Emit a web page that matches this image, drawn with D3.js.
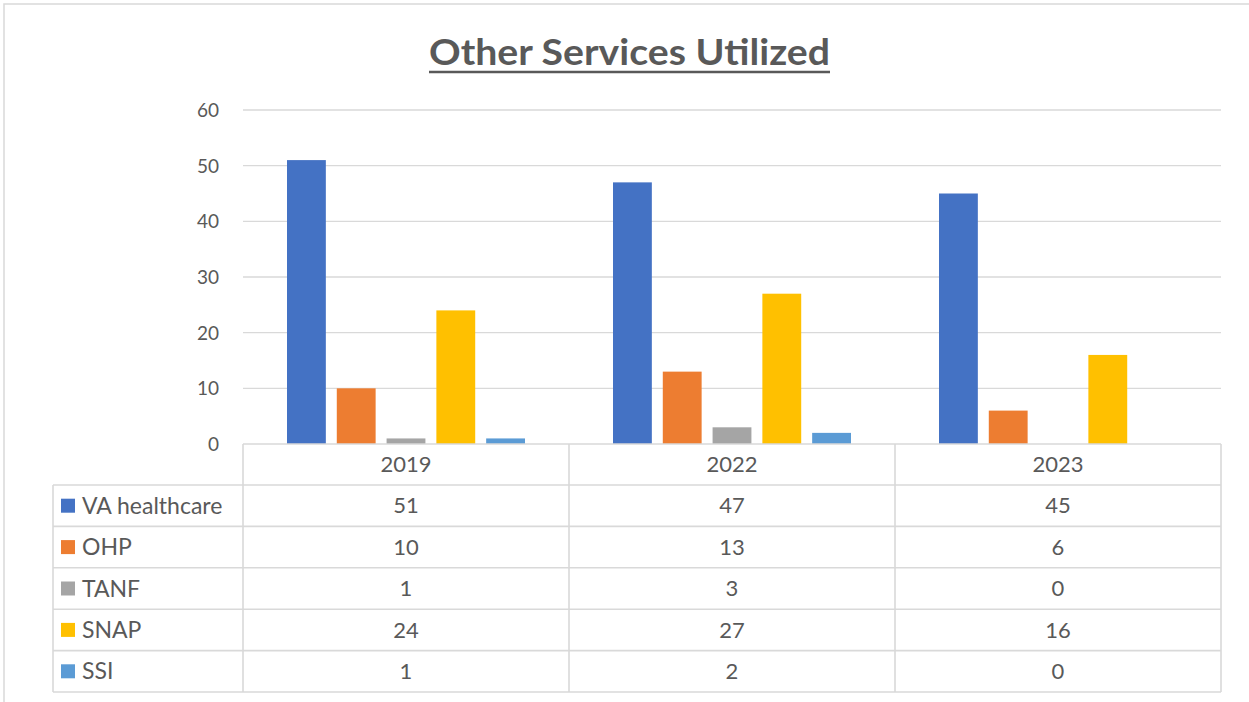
<!DOCTYPE html>
<html><head><meta charset="utf-8">
<script src="https://cdn.jsdelivr.net/npm/d3@7"></script>
<style>body{margin:0;background:#fff;} svg{display:block;font-family:Lato, "Open Sans", sans-serif;}</style>
</head><body>
<svg id="c" width="1249" height="702"></svg>
<script>
const years = ["2019", "2022", "2023"];
const seriesNames = ["VA healthcare", "OHP", "TANF", "SNAP", "SSI"];
const seriesColors = ["#4472C4", "#ED7D31", "#A5A5A5", "#FFC000", "#5B9BD5"];
const vaHealthcare = [51, 47, 45];
const ohp = [10, 13, 6];
const tanf = [1, 3, 0];
const snap = [24, 27, 16];
const ssi = [1, 2, 0];
const yTicks = [0, 10, 20, 30, 40, 50, 60];
const seriesValues = [vaHealthcare, ohp, tanf, snap, ssi];

const svg = d3.select("#c");
const txt = "#595959", grid = "#d9d9d9";

// outer border
svg.append("path").attr("d", "M4,702 L4,4 L1249,4").attr("fill","none").attr("stroke", grid).attr("stroke-width", 1.5);

// title
const title = svg.append("text").attr("x", 629.5).attr("y", 65).attr("text-anchor","middle")
  .attr("font-size", 36).attr("font-weight", "bold").attr("fill", txt)
  .attr("textLength", 401).attr("lengthAdjust", "spacingAndGlyphs").text("Other Services Utilized");
svg.append("line").attr("x1", 429).attr("x2", 830).attr("y1", 72).attr("y2", 72)
  .attr("stroke", txt).attr("stroke-width", 2.5);

const x = d3.scaleBand().domain(years).range([243, 1221]).padding(0);
const xi = d3.scaleBand().domain(seriesNames).range([44, x.bandwidth() - 44]).paddingInner(0.22).paddingOuter(0);
const y = d3.scaleLinear().domain([0, 60]).range([444, 110]);

// gridlines
svg.append("g").selectAll("line").data(yTicks.filter(d => d > 0)).join("line")
  .attr("x1", 243).attr("x2", 1221).attr("y1", d => y(d)).attr("y2", d => y(d))
  .attr("stroke", grid).attr("stroke-width", 1.3);

// y axis
const yAxis = svg.append("g").attr("transform", "translate(219,0)")
  .call(d3.axisLeft(y).tickValues(yTicks).tickSize(0).tickPadding(0));
yAxis.select(".domain").remove();
yAxis.selectAll("text").attr("font-size", 19).attr("fill", txt).attr("font-family", "Lato, sans-serif").attr("dy", "0.35em");

// bars
seriesNames.forEach((s, si) => {
  svg.append("g").selectAll("rect").data(years.map((yr, i) => ({yr, v: seriesValues[si][i]}))).join("rect")
    .attr("x", d => x(d.yr) + xi(s)).attr("width", xi.bandwidth())
    .attr("y", d => y(d.v)).attr("height", d => y(0) - y(d.v))
    .attr("fill", seriesColors[si]);
});

// data table
const rowTop = 444, headerH = 41, rowH = 41.4, legendLeft = 53;
const tbl = svg.append("g");
const lineAttr = sel => sel.attr("stroke", grid).attr("stroke-width", 1.6);
tbl.append("line").attr("x1", 243).attr("x2", 1221).attr("y1", rowTop).attr("y2", rowTop).call(lineAttr);
for (let r = 0; r <= seriesNames.length; r++) {
  const yy = rowTop + headerH + r * rowH;
  tbl.append("line").attr("x1", legendLeft).attr("x2", 1221).attr("y1", yy).attr("y2", yy).call(lineAttr);
}
const bottom = rowTop + headerH + seriesNames.length * rowH;
tbl.append("line").attr("x1", legendLeft).attr("x2", legendLeft).attr("y1", rowTop + headerH).attr("y2", bottom).call(lineAttr);
[...years.map(d => x(d)), 1221].forEach(xx => {
  tbl.append("line").attr("x1", xx).attr("x2", xx).attr("y1", rowTop).attr("y2", bottom).call(lineAttr);
});
tbl.selectAll("text.h").data(years).join("text").attr("class","h")
  .attr("x", d => x(d) + x.bandwidth()/2).attr("y", rowTop + headerH/2).attr("dy", "0.35em")
  .attr("text-anchor","middle").attr("font-size", 22).attr("fill", txt).text(d => d);
seriesNames.forEach((s, si) => {
  const cy = rowTop + headerH + si * rowH + rowH/2;
  tbl.append("rect").attr("x", 61).attr("y", cy - 7).attr("width", 14).attr("height", 14).attr("fill", seriesColors[si]);
  tbl.append("text").attr("x", 82).attr("y", cy).attr("dy","0.35em").attr("font-size", 23).attr("fill", txt).text(s);
  years.forEach((yr, i) => {
    tbl.append("text").attr("x", x(yr) + x.bandwidth()/2).attr("y", cy).attr("dy","0.35em")
      .attr("text-anchor","middle").attr("font-size", 22).attr("fill", txt).text(seriesValues[si][i]);
  });
});
</script>
</body></html>
